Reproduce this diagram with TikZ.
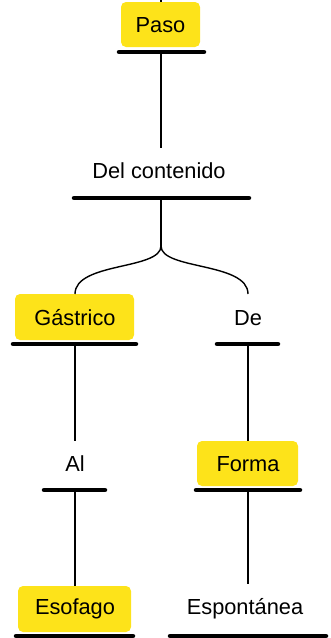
\documentclass[tikz,border=0pt]{standalone}
\usepackage{fontspec}
\setmainfont{Liberation Sans}
\definecolor{hl}{HTML}{FDE31A}
\begin{document}
\begin{tikzpicture}[x=1pt,y=-1pt,
  lbl/.style={font=\fontsize{21.8}{26}\selectfont, anchor=center, inner sep=0pt},
  hbox/.style={fill=hl, rounded corners=5pt, draw=none},
  uline/.style={line width=4.5pt, line cap=round},
  conn/.style={line width=1.4pt}]
\useasboundingbox (0,0) rectangle (330,638);
% boxes
\fill[hbox] (121,2) rectangle (200,47);
\fill[hbox] (15,294) rectangle (134,340);
\fill[hbox] (197,441) rectangle (298,486);
\fill[hbox] (18,586) rectangle (131,632);
% connectors
\coordinate (top) at (161,0);
\coordinate (pasoT) at (161,2);
\coordinate (pasoU) at (161,52);
\coordinate (delT) at (161,148);
\coordinate (delU) at (161,198);
\coordinate (split) at (161,246);
\coordinate (gasT) at (75,294);
\coordinate (deT) at (248,294);
\coordinate (gasU) at (75,344);
\coordinate (alT) at (75,441);
\coordinate (alU) at (75,490);
\coordinate (esoT) at (75,586);
\coordinate (deU) at (248,344);
\coordinate (forT) at (248,441);
\coordinate (forU) at (248,490);
\coordinate (espT) at (248,584);
\draw[conn] (top) -- (pasoT);
\draw[conn] (pasoU) -- (delT);
\draw[conn] (delU) -- (split);
\draw[conn] (split) .. controls (161,270) and (75,262) .. (gasT);
\draw[conn] (split) .. controls (161,270) and (248,262) .. (deT);
\draw[conn] (gasU) -- (alT);
\draw[conn] (alU) -- (esoT);
\draw[conn] (deU) -- (forT);
\draw[conn] (forU) -- (espT);
% underlines
\draw[uline] (119,52) -- (204,52);
\draw[uline] (74,198) -- (249,198);
\draw[uline] (13,344) -- (136,344);
\draw[uline] (217,344) -- (278,344);
\draw[uline] (44,490) -- (105,490);
\draw[uline] (196,490) -- (300,490);
\draw[uline] (16,636) -- (133,636);
\draw[uline] (170,636) -- (326,636);
% labels
\node[lbl] (paso) at (160.5,25) {Paso};
\node[lbl] (del) at (159,171) {Del contenido};
\node[lbl] (gas) at (75,318) {Gástrico};
\node[lbl] (de) at (248,318) {De};
\node[lbl] (al) at (75,464) {Al};
\node[lbl] (forma) at (248,464) {Forma};
\node[lbl] (eso) at (75,609) {Esofago};
\node[lbl] (esp) at (245,609) {Espontánea};
\end{tikzpicture}
\end{document}
